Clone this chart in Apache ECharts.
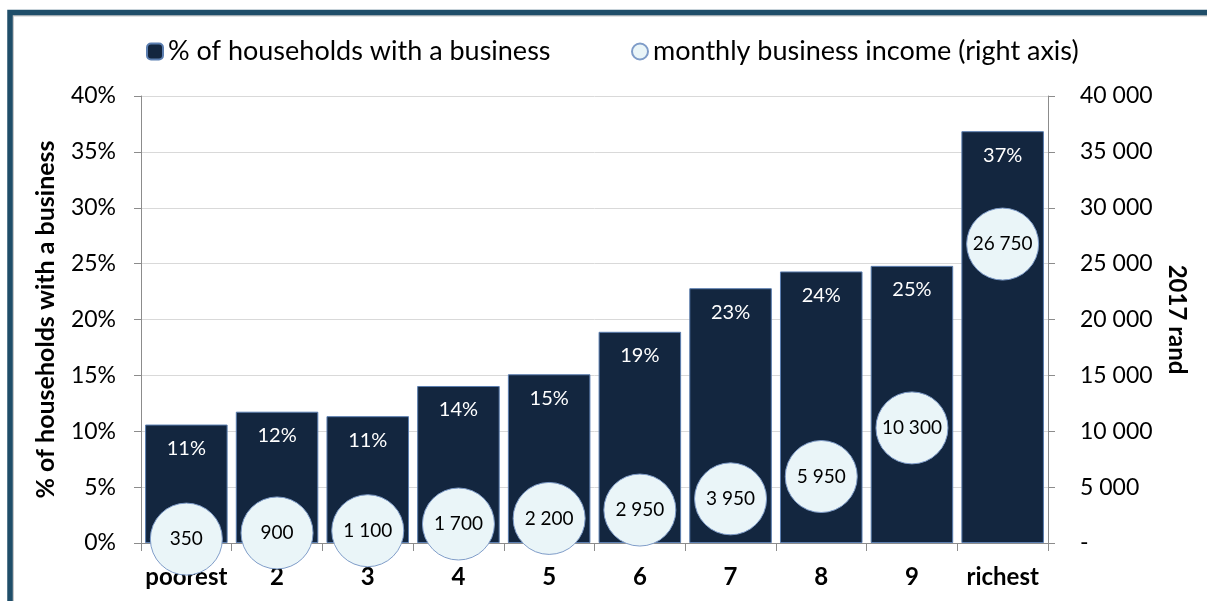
<!DOCTYPE html>
<html>
<head>
<meta charset="utf-8">
<script src="https://cdn.jsdelivr.net/npm/echarts@6/dist/echarts.min.js"></script>
<style>
  html, body { margin: 0; padding: 0; background: #fff; }
  #chart { width: 1207px; height: 601px; }
</style>
</head>
<body>
<div id="chart"></div>
<script>
const deciles = ['poorest', '2', '3', '4', '5', '6', '7', '8', '9', 'richest']
const shareWithBusiness = [10.6, 11.75, 11.35, 14.05, 15.1, 18.9, 22.8, 24.3, 24.8, 36.85]
const businessIncome = [350, 900, 1100, 1700, 2200, 2950, 3950, 5950, 10300, 26750]

const barName = '% of households with a business'
const bubbleName = 'monthly business income (right axis)'
const font = 'Lato'

function spaced (v) {
  return String(Math.round(v)).replace(/\B(?=(\d{3})+(?!\d))/g, ' ')
}

const myChart = echarts.init(document.getElementById('chart'))
myChart.setOption({
  animation: false,
  textStyle: { fontFamily: font },
  graphic: [
    {
      type: 'rect',
      shape: { x: 13, y: 15.5, width: 1300, height: 700 },
      style: { fill: 'none', stroke: '#c8c8c8', lineWidth: 2 }
    },
    {
      type: 'rect',
      shape: { x: 10, y: 12.5, width: 1300, height: 700 },
      style: { fill: 'none', stroke: '#1f4e69', lineWidth: 5.5 }
    }
  ],
  legend: [
    {
      data: [barName],
      left: 141,
      top: 33,
      itemWidth: 16,
      itemHeight: 16,
      textStyle: { fontSize: 27, color: '#000', fontFamily: font }
    },
    {
      data: [bubbleName],
      left: 626,
      top: 33,
      itemWidth: 16,
      itemHeight: 16,
      textStyle: { fontSize: 27, color: '#000', fontFamily: font }
    }
  ],
  grid: {
    left: 141,
    right: 159,
    top: 96,
    bottom: 58
  },
  xAxis: {
    type: 'category',
    data: deciles,
    axisLine: { lineStyle: { color: '#8c8c8c' } },
    axisTick: { show: true, length: 8, lineStyle: { color: '#8c8c8c' } },
    axisLabel: {
      interval: 0,
      color: '#000',
      fontSize: 24,
      fontWeight: 'bold',
      margin: 22,
      fontFamily: font
    }
  },
  yAxis: [
    {
      type: 'value',
      min: 0,
      max: 40,
      interval: 5,
      name: barName,
      nameLocation: 'middle',
      nameGap: 83,
      nameTextStyle: { fontSize: 25, fontWeight: 'bold', color: '#000', fontFamily: font },
      axisLine: { show: true, lineStyle: { color: '#8c8c8c' } },
      axisTick: { show: true, length: 7, lineStyle: { color: '#8c8c8c' } },
      axisLabel: {
        formatter: '{value}%',
        color: '#000',
        fontSize: 23,
        margin: 25,
        fontFamily: font
      },
      splitLine: { lineStyle: { color: '#d9d9d9' } }
    },
    {
      type: 'value',
      min: 0,
      max: 40000,
      interval: 5000,
      position: 'right',
      name: '2017 rand',
      nameLocation: 'middle',
      nameGap: 117,
      nameRotate: -90,
      nameTextStyle: { fontSize: 24, fontWeight: 'bold', color: '#000', fontFamily: font },
      axisLine: { show: true, lineStyle: { color: '#8c8c8c' } },
      axisTick: { show: true, length: 7, lineStyle: { color: '#8c8c8c' } },
      axisLabel: {
        formatter: function (v) {
          return v === 0 ? '-' : spaced(v)
        },
        color: '#000',
        fontSize: 23,
        margin: 32,
        fontFamily: font
      },
      splitLine: { show: false }
    }
  ],
  series: [
    {
      name: barName,
      type: 'bar',
      yAxisIndex: 0,
      barCategoryGap: '9%',
      itemStyle: {
        color: '#13263f',
        borderColor: '#5b7eb0',
        borderWidth: 1
      },
      label: {
        show: true,
        position: 'insideTop',
        distance: 14,
        color: '#fff',
        fontSize: 20,
        fontFamily: font,
        formatter: function (p) {
          return Math.round(p.value) + '%'
        }
      },
      data: shareWithBusiness
    },
    {
      name: bubbleName,
      type: 'scatter',
      yAxisIndex: 1,
      symbol: 'circle',
      symbolSize: 72,
      clip: false,
      z: 5,
      itemStyle: {
        color: '#eaf5f8',
        borderColor: '#7f9cc8',
        borderWidth: 1,
        opacity: 1
      },
      label: {
        show: true,
        position: 'inside',
        color: '#000',
        fontSize: 19,
        fontFamily: font,
        formatter: function (p) {
          return spaced(p.value)
        }
      },
      data: businessIncome
    }
  ]
})
</script>
</body>
</html>
